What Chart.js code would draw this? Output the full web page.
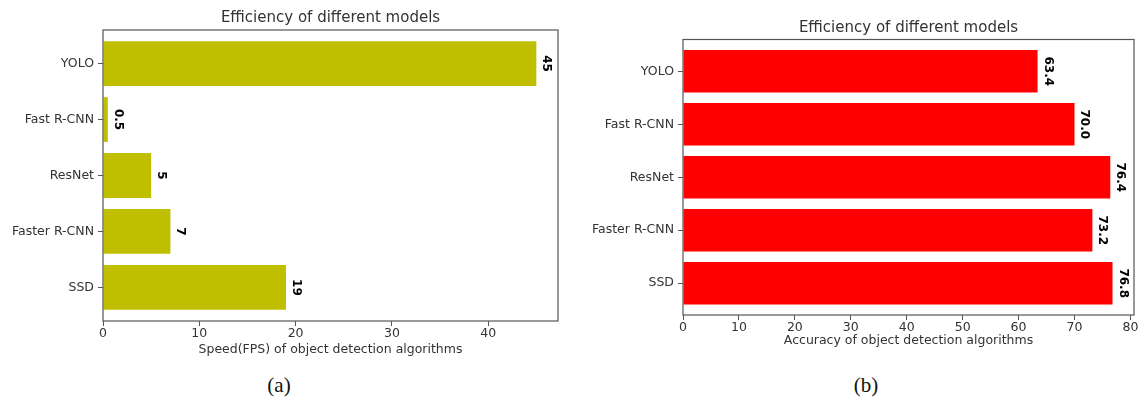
<!DOCTYPE html>
<html>
<head>
<meta charset="utf-8">
<title>Efficiency of different models</title>
<script src="https://cdn.jsdelivr.net/npm/chart.js@4.4.0/dist/chart.umd.min.js"></script>
<style>
  html, body { margin: 0; padding: 0; background: #fff; width: 1139px; height: 403px; overflow: hidden; }
  .panel { position: absolute; top: 0; }
  #speedPanel { left: 0; }
  #accuracyPanel { left: 570px; }
  .caption {
    position: absolute; top: 373px; height: 24px; line-height: 24px;
    font-family: "Liberation Serif", "Times New Roman", serif; font-size: 21px; color: #111;
    transform: translateX(-50%); white-space: nowrap;
  }
</style>
</head>
<body>
<div class="panel" id="speedPanel"><canvas id="speedChart" width="570" height="360"></canvas></div>
<div class="panel" id="accuracyPanel"><canvas id="accuracyChart" width="569" height="360"></canvas></div>
<div class="caption" style="left:279px">(a)</div>
<div class="caption" style="left:866px">(b)</div>

<script>
// Models, listed top to bottom
const models = ['YOLO', 'Fast R-CNN', 'ResNet', 'Faster R-CNN', 'SSD'];

// Speed in frames per second
const speedFps = [45, 0.5, 5, 7, 19];

// Accuracy (mAP, %)
const accuracy = [63.4, 70.0, 76.4, 73.2, 76.8];

// Tick values along the value axes
const speedTicks = [0, 10, 20, 30, 40];
const accuracyTicks = [0, 10, 20, 30, 40, 50, 60, 70, 80];

const FONT = '"DejaVu Sans", "Liberation Sans", sans-serif';
const TEXT = '#333';
const SPINE = '#555';
const TICK_SIZE = 12.5;
const TITLE_SIZE = 15;

Chart.defaults.font.family = FONT;
Chart.defaults.color = TEXT;

// Box around the plotting area (all four spines)
const framePlugin = {
  id: 'frame',
  afterDatasetsDraw(chart) {
    const { ctx, chartArea: a } = chart;
    ctx.save();
    ctx.strokeStyle = SPINE;
    ctx.lineWidth = 1.2;
    ctx.strokeRect(a.left, a.top, a.right - a.left, a.bottom - a.top);
    ctx.restore();
  }
};

// Rotated bold value written just past the end of each bar
function valueLabelPlugin(format, gap) {
  return {
    id: 'valueLabels',
    afterDatasetsDraw(chart) {
      const { ctx } = chart;
      const meta = chart.getDatasetMeta(0);
      const data = chart.data.datasets[0].data;
      ctx.save();
      ctx.font = 'bold 12px ' + FONT;
      ctx.fillStyle = '#000';
      ctx.textAlign = 'center';
      ctx.textBaseline = 'alphabetic';
      meta.data.forEach((bar, i) => {
        ctx.save();
        ctx.translate(bar.x + gap, bar.y);
        ctx.rotate(Math.PI / 2);
        ctx.fillText(format(data[i].x), 0, 0);
        ctx.restore();
      });
      ctx.restore();
    }
  };
}

function barChart(canvasId, spec) {
  const points = spec.values.map((v, i) => ({ x: v, y: i }));
  return new Chart(document.getElementById(canvasId), {
    type: 'bar',
    data: {
      datasets: [{
        data: points,
        backgroundColor: spec.color,
        borderWidth: 0,
        categoryPercentage: 1,
        barPercentage: 0.8
      }]
    },
    options: {
      indexAxis: 'y',
      responsive: false,
      animation: false,
      layout: { padding: { left: 0, right: spec.padRight, top: 0, bottom: 0 } },
      plugins: {
        legend: { display: false },
        tooltip: { enabled: false },
        title: {
          display: true,
          fullSize: false,
          text: spec.title,
          color: TEXT,
          font: { family: FONT, size: TITLE_SIZE, weight: 'normal' },
          padding: { top: spec.titleTop, bottom: spec.titleBottom }
        }
      },
      scales: {
        x: {
          type: 'linear',
          min: 0,
          max: spec.xMax,
          afterBuildTicks: (scale) => { scale.ticks = spec.ticks.map(v => ({ value: v })); },
          afterFit: (scale) => { scale.height = spec.xAxisHeight; },
          grid: { drawOnChartArea: false, drawTicks: true, tickLength: 5, tickColor: SPINE, tickWidth: 1 },
          border: { display: false },
          ticks: { color: TEXT, font: { family: FONT, size: TICK_SIZE }, padding: 0, maxRotation: 0 },
          title: {
            display: true,
            text: spec.xTitle,
            color: TEXT,
            font: { family: FONT, size: TICK_SIZE },
            padding: { top: 0, bottom: spec.xTitleBottom }
          }
        },
        y: {
          type: 'linear',
          reverse: true,
          offset: false,
          min: -0.6,
          max: models.length - 0.4,
          afterBuildTicks: (scale) => { scale.ticks = models.map((_, i) => ({ value: i })); },
          afterFit: (scale) => { scale.width = spec.yAxisWidth; },
          grid: { offset: false, drawOnChartArea: false, drawTicks: true, tickLength: 5, tickColor: SPINE, tickWidth: 1 },
          border: { display: false },
          ticks: {
            color: TEXT,
            font: { family: FONT, size: TICK_SIZE },
            padding: 4,
            callback: (v) => models[v]
          }
        }
      }
    },
    plugins: [framePlugin, valueLabelPlugin(spec.format, spec.gap)]
  });
}

barChart('speedChart', {
  values: speedFps,
  color: '#bfbf00',
  xMax: 45 * 1.05,
  ticks: speedTicks,
  title: 'Efficiency of different models',
  xTitle: 'Speed(FPS) of object detection algorithms',
  format: (v) => String(v),
  gap: 7,
  yAxisWidth: 103,
  padRight: 12,
  titleTop: 9.5,
  titleBottom: 2.5,
  xAxisHeight: 39,
  xTitleBottom: 2.5
});

barChart('accuracyChart', {
  values: accuracy,
  color: '#ff0000',
  xMax: 76.8 * 1.05,
  ticks: accuracyTicks,
  title: 'Efficiency of different models',
  xTitle: 'Accuracy of object detection algorithms',
  format: (v) => v.toFixed(1),
  gap: 7,
  yAxisWidth: 113,
  padRight: 5,
  titleTop: 19,
  titleBottom: 2.5,
  xAxisHeight: 45,
  xTitleBottom: 11.5
});
</script>
</body>
</html>
